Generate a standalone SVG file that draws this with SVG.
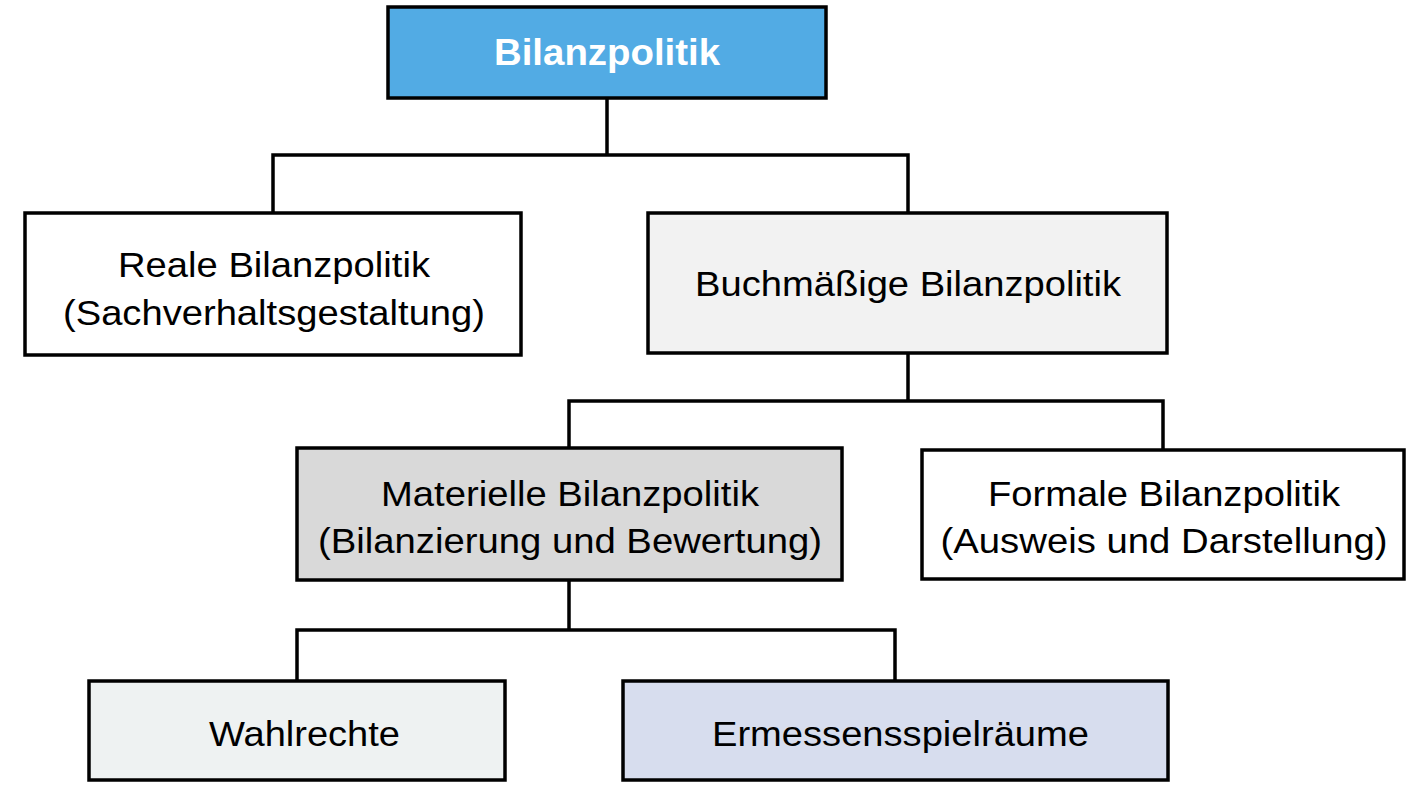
<svg xmlns="http://www.w3.org/2000/svg" width="1412" height="794" viewBox="0 0 1412 794">
<style>
.box{stroke:#000;stroke-width:3.5}
.t{font-family:"Liberation Sans",Arial,sans-serif;font-size:35px;fill:#000;text-anchor:middle}
.tb{font-family:"Liberation Sans",Arial,sans-serif;font-size:36px;font-weight:bold;fill:#fff;text-anchor:middle}
.c{fill:none;stroke:#000;stroke-width:3.5;stroke-linejoin:miter}
</style>
<rect width="1412" height="794" fill="#fff"/>
<g id="connectors">
<path class="c" d="M607,98 V155 M273,214 V155 H908 V214"/>
<path class="c" d="M908,353 V401 M569,449 V401 H1163 V451"/>
<path class="c" d="M569,580 V630 M297,682 V630 H895 V682"/>
</g>
<g id="bilanzpolitik">
<rect class="box" x="388" y="7" width="438" height="91" fill="#52abe4"/>
<text class="tb" x="607" y="65" textLength="226" lengthAdjust="spacingAndGlyphs">Bilanzpolitik</text>
</g>
<g id="reale">
<rect class="box" x="25" y="213" width="496" height="142" fill="#fff"/>
<text class="t" x="274" y="277" textLength="312" lengthAdjust="spacingAndGlyphs">Reale Bilanzpolitik</text>
<text class="t" x="274" y="325" textLength="422" lengthAdjust="spacingAndGlyphs">(Sachverhaltsgestaltung)</text>
</g>
<g id="buchmaessige">
<rect class="box" x="648" y="213" width="519" height="140" fill="#f2f2f2"/>
<text class="t" x="908" y="296" textLength="426" lengthAdjust="spacingAndGlyphs">Buchmäßige Bilanzpolitik</text>
</g>
<g id="materielle">
<rect class="box" x="297" y="448" width="545" height="132" fill="#d9d9d9"/>
<text class="t" x="570" y="506" textLength="378" lengthAdjust="spacingAndGlyphs">Materielle Bilanzpolitik</text>
<text class="t" x="570" y="553" textLength="504" lengthAdjust="spacingAndGlyphs">(Bilanzierung und Bewertung)</text>
</g>
<g id="formale">
<rect class="box" x="922" y="450" width="482" height="129" fill="#fff"/>
<text class="t" x="1164" y="506" textLength="352" lengthAdjust="spacingAndGlyphs">Formale Bilanzpolitik</text>
<text class="t" x="1164" y="553" textLength="447" lengthAdjust="spacingAndGlyphs">(Ausweis und Darstellung)</text>
</g>
<g id="wahlrechte">
<rect class="box" x="89" y="681" width="416" height="99" fill="#eef2f2"/>
<text class="t" x="304.5" y="746" textLength="191" lengthAdjust="spacingAndGlyphs">Wahlrechte</text>
</g>
<g id="ermessen">
<rect class="box" x="623" y="681" width="545" height="99" fill="#d7ddee"/>
<text class="t" x="900.5" y="746" textLength="377" lengthAdjust="spacingAndGlyphs">Ermessensspielräume</text>
</g>
</svg>
